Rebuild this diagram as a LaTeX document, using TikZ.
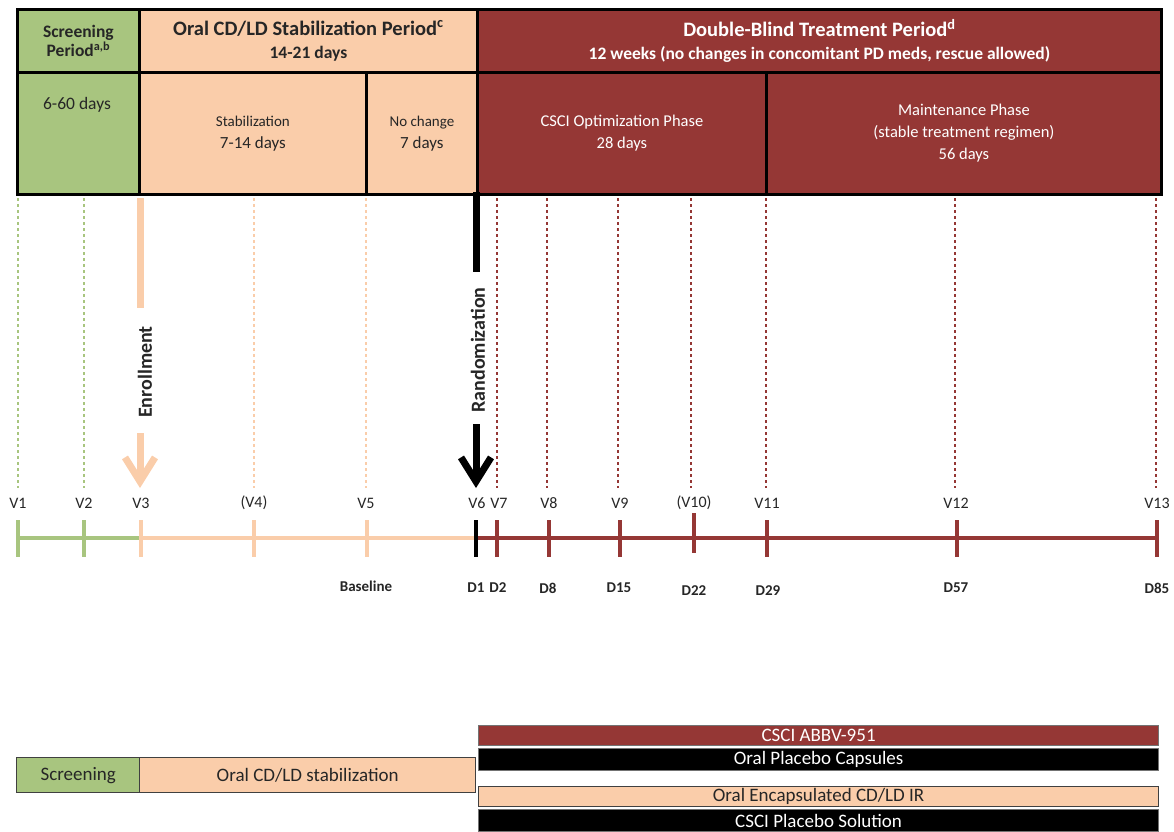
\documentclass[tikz,border=0pt]{standalone}
\usepackage{fontspec}
\setmainfont{Carlito}
\usetikzlibrary{arrows.meta}
\definecolor{grn}{HTML}{A8C57F}
\definecolor{peach}{HTML}{FACDAA}
\definecolor{dred}{HTML}{953735}
\definecolor{ink}{HTML}{262626}
\newcommand\myfs[2]{\fontsize{#1}{#2}\selectfont}
\begin{document}
\begin{tikzpicture}[x=1pt,y=-1pt,
  cell/.style={draw=black, line width=2.8pt, inner sep=0pt, align=center, anchor=north west, text=ink},
  vlab/.style={font=\myfs{16}{18}, text=ink, inner sep=0pt},
  dlab/.style={font=\bfseries\myfs{15}{17}, text=ink, inner sep=0pt},
  dots/.style={line width=2.6pt, dash pattern=on 3pt off 3pt},
  tick/.style={line width=3.6pt},
  axis/.style={line width=3.6pt},
  bbox/.style={draw=black!75, line width=1.4pt, inner sep=0pt, anchor=north west, font=\myfs{19}{20}, text=ink, minimum height=35},
  bar/.style={draw=black!55, line width=1.2pt, inner sep=0pt, anchor=north west, font=\myfs{19}{20}, minimum width=680},
  vtext/.style={rotate=90, font=\bfseries\myfs{20}{22}, text=ink, inner sep=0pt},
  barb/.style={-{Straight Barb[length=24pt, width=30pt]}}
]
\useasboundingbox (0,0) rectangle (1174,831);

% ---------------- header, top row
\node[cell, fill=grn, minimum width=122, minimum height=63, font=\bfseries\myfs{17.5}{19}] (scrH) at (16,8) {Screening\\Period\textsuperscript{a,b}};
\node[cell, fill=peach, minimum width=338, minimum height=63, font=\bfseries\myfs{17.5}{23}] (oralH) at (138,8) {{\myfs{20.5}{23}Oral CD/LD Stabilization Period\textsuperscript{c}}\\14-21 days};
\node[cell, fill=dred, text=white, minimum width=684, minimum height=63, font=\bfseries\myfs{17.5}{23}] (dbH) at (476,8) {{\myfs{20.5}{23}Double-Blind Treatment Period\textsuperscript{d}}\\12 weeks (no changes in concomitant PD meds, rescue allowed)};

% ---------------- header, second row
\node[cell, fill=grn, minimum width=122, minimum height=122] (scr2) at (16,71) {};
\node[font=\myfs{17.5}{20}, text=ink, inner sep=0pt] (scrDays) at (77,105) {6-60 days};
\node[cell, fill=peach, minimum width=227, minimum height=122, font=\myfs{17}{22}] (stab) at (138,71) {{\myfs{15}{22}Stabilization}\\7-14 days};
\node[cell, fill=peach, minimum width=111, minimum height=122, font=\myfs{17}{22}] (noch) at (365,71) {{\myfs{15}{22}No change}\\7 days};
\node[cell, fill=dred, text=white, minimum width=289, minimum height=122, font=\myfs{16.5}{22}] (csci) at (476,71) {CSCI Optimization Phase\\28 days};
\node[cell, fill=dred, text=white, minimum width=395, minimum height=122, font=\myfs{16.5}{22}] (maint) at (765,71) {Maintenance Phase\\(stable treatment regimen)\\56 days};

% ---------------- visit labels
\node[vlab] (v1) at (18,503) {V1};
\node[vlab] (v2) at (84,503) {V2};
\node[vlab] (v3) at (141,503) {V3};
\node[vlab] (v4) at (254,503) {(V4)};
\node[vlab] (v5) at (366,503) {V5};
\node[vlab] (v6) at (477,503) {V6};
\node[vlab] (v7) at (499,503) {V7};
\node[vlab] (v8) at (549,503) {V8};
\node[vlab] (v9) at (620,503) {V9};
\node[vlab] (v10) at (694,503) {(V10)};
\node[vlab] (v11) at (767,503) {V11};
\node[vlab] (v12) at (956,503) {V12};
\node[vlab] (v13) at (1157,503) {V13};

% ---------------- dotted guide lines
\foreach \n/\x/\c in {1/18/grn, 2/84/grn, 4/254/peach, 5/366/peach, 7/497/dred, 8/547/dred, 9/618/dred, 10/691/dred, 11/766/dred, 12/955/dred, 13/1156/dred}{
  \coordinate (top\n) at (\x,198);
  \coordinate (bot\n) at (\x,488);
  \draw[dots, \c] (top\n) -- (bot\n);
}

% ---------------- timeline
\foreach \n/\x in {1/18, 2/84, 3/141, 4/254, 5/367, 6/476, 7/497, 8/549, 9/620, 10/694, 11/767, 12/957, 13/1157}{
  \coordinate (t\n) at (\x,538);
}
\draw[axis, grn] (t1) -- (t3);
\draw[axis, peach] (t3) -- (t6);
\draw[axis, dred] (t6) -- (t13);
\foreach \n/\c in {1/grn, 2/grn, 3/peach, 4/peach, 5/peach, 7/dred, 8/dred, 9/dred, 11/dred, 12/dred, 13/dred}{
  \draw[tick, \c] ([yshift=18pt]t\n) -- ([yshift=-19pt]t\n);
}
\draw[tick, dred] ([yshift=25pt]t10) -- ([yshift=-15pt]t10);
\draw[tick, black] ([yshift=18pt]t6) -- ([yshift=-19pt]t6);

% ---------------- day labels
\node[dlab] (base) at (366,586) {Baseline};
\node[dlab] (d1) at (476,588) {D1};
\node[dlab] (d2) at (498,588) {D2};
\node[dlab] (d8) at (548,588) {D8};
\node[dlab] (d15) at (619,588) {D15};
\node[dlab] (d22) at (694,591) {D22};
\node[dlab] (d29) at (768,591) {D29};
\node[dlab] (d57) at (956,588) {D57};
\node[dlab] (d85) at (1157,588) {D85};

% ---------------- enrollment
\node[vtext] (enr) at (145,372) {Enrollment};
\coordinate (eA) at (140,198);
\coordinate (eB) at (140,308);
\coordinate (eC) at (140,433);
\coordinate (eD) at (140,488);
\draw[peach, line width=7pt] (eA) -- (eB);
\draw[peach, line width=7pt, barb] (eC) -- (eD);

% ---------------- randomization
\node[vtext] (rnd) at (478,350) {Randomization};
\coordinate (rA) at (476,192);
\coordinate (rB) at (476,272);
\coordinate (rC) at (476,424);
\coordinate (rD) at (476,488);
\draw[black, line width=7pt] (rA) -- (rB);
\draw[black, line width=7pt, barb] (rC) -- (rD);

% ---------------- bottom legend
\node[bbox, fill=grn, minimum width=123] (scrB) at (16,757) {Screening};
\node[bbox, fill=peach, minimum width=336] (oralB) at (139,757) {Oral CD/LD stabilization};
\node[bar, fill=dred, text=white, minimum height=20] (abbv) at (478,725) {CSCI ABBV-951};
\node[bar, fill=black, text=white, minimum height=22] (opc) at (478,748) {Oral Placebo Capsules};
\node[bar, draw=black!75, fill=peach, text=ink, minimum height=20] (oec) at (478,786) {Oral Encapsulated CD/LD IR};
\node[bar, fill=black, text=white, minimum height=22] (cps) at (478,809) {CSCI Placebo Solution};
\end{tikzpicture}
\end{document}
